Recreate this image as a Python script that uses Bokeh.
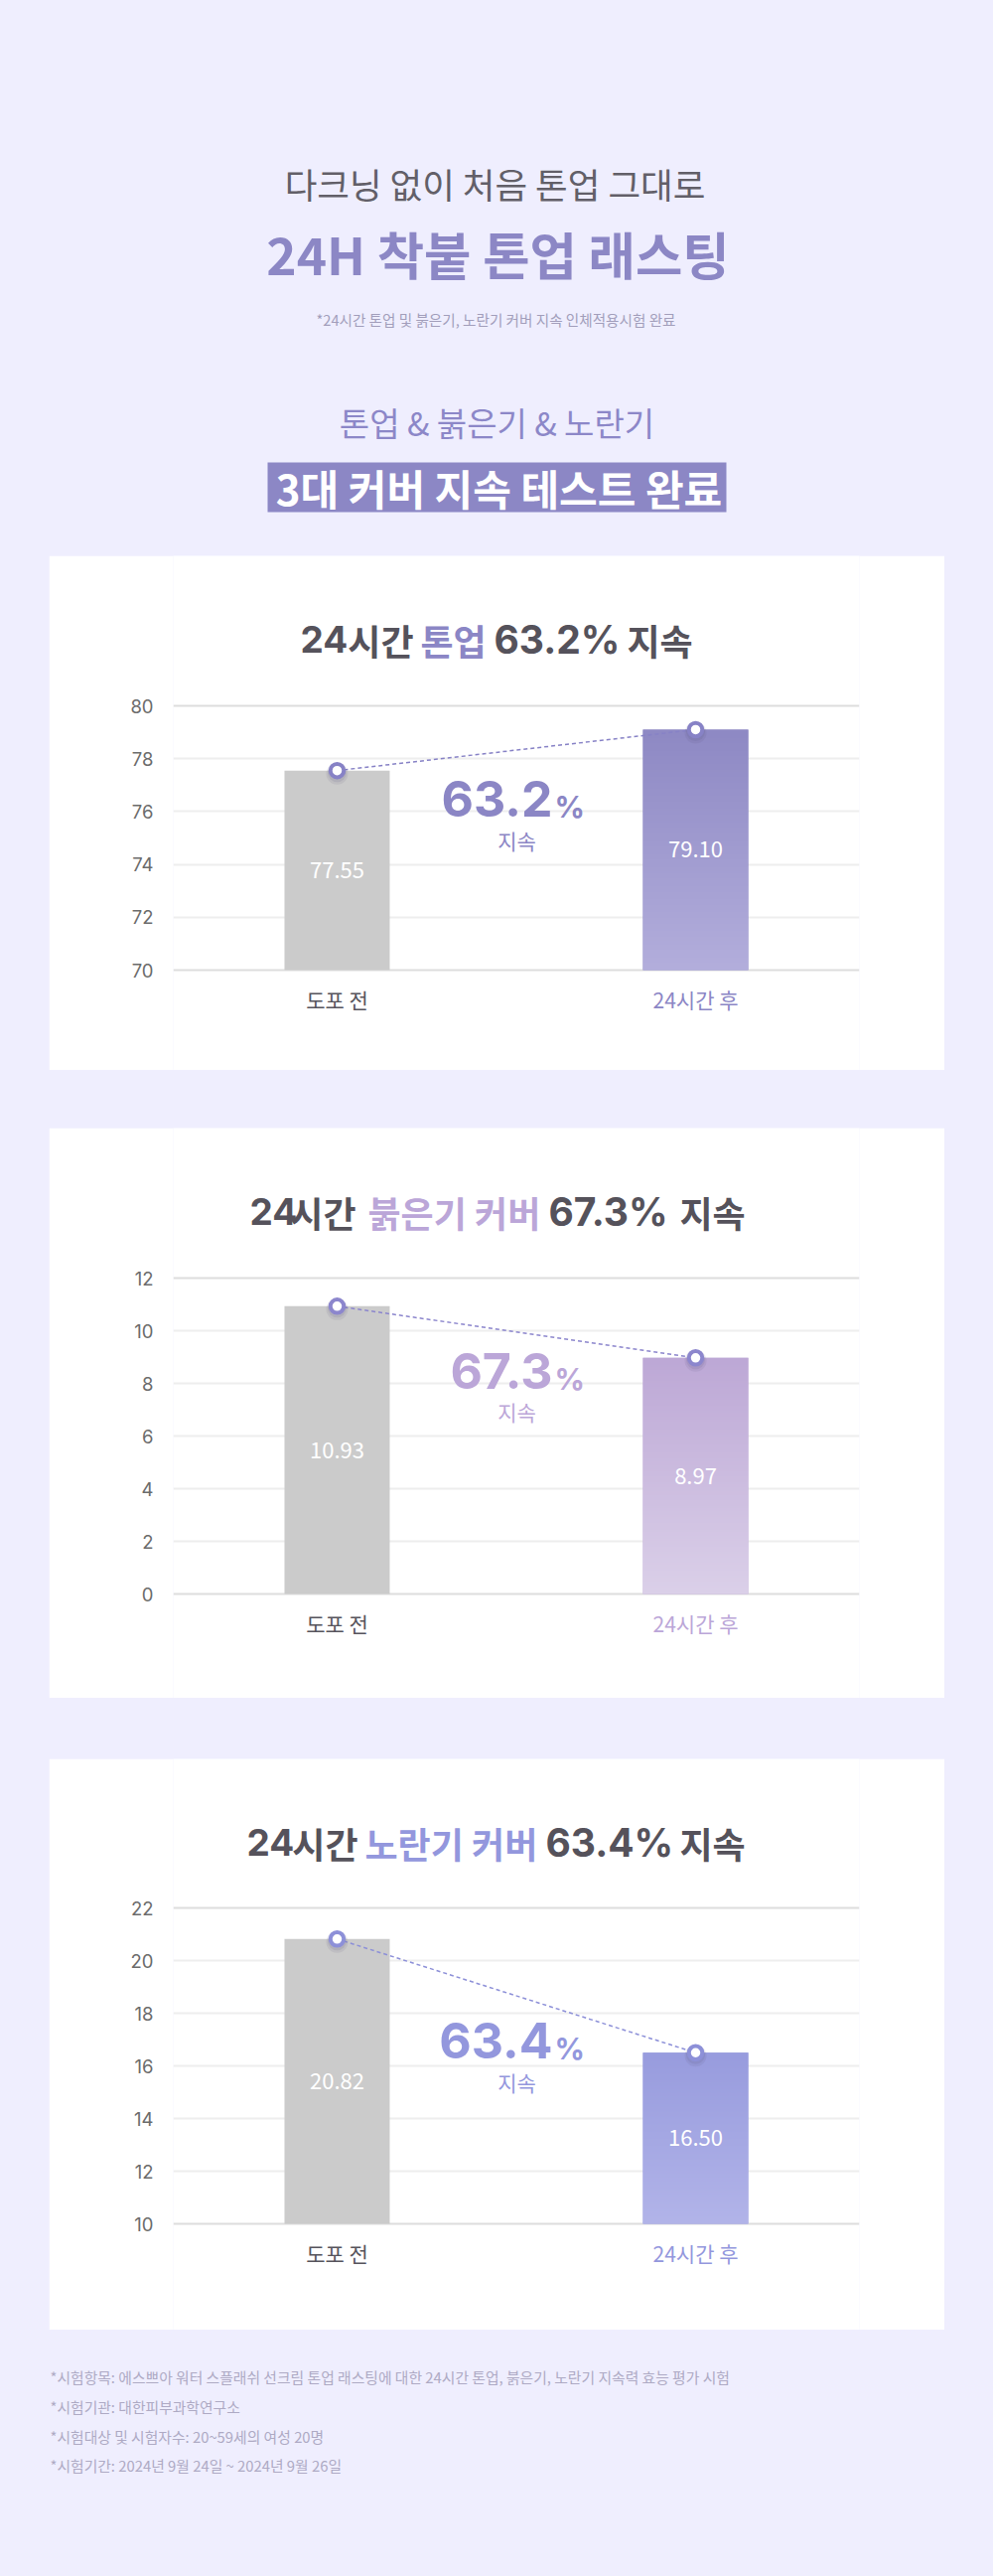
import numpy as np
from bokeh.plotting import figure
from bokeh.layouts import column, row
from bokeh.models import Range1d, FixedTicker, LinearAxis, Grid, Spacer
from bokeh.core.properties import value
from bokeh.embed import file_html
from bokeh.resources import INLINE

# ---------------- data ----------------
categories = ["도포 전", "24시간 후"]
tone_up = [77.55, 79.10]
redness = [10.93, 8.97]
yellowness = [20.82, 16.50]
retention = [63.2, 67.3, 63.4]
tone_ticks = [70, 72, 74, 76, 78, 80]
red_ticks = [0, 2, 4, 6, 8, 10, 12]
yellow_ticks = [10, 12, 14, 16, 18, 20, 22]
card_topics = ["톤업", "붉은기 커버", "노란기 커버"]
footnotes = [
    "*시험항목: 에스쁘아 워터 스플래쉬 선크림 톤업 래스팅에 대한 24시간 톤업, 붉은기, 노란기 지속력 효능 평가 시험",
    "*시험기관: 대한피부과학연구소",
    "*시험대상 및 시험자수: 20~59세의 여성 20명",
    "*시험기간: 2024년 9월 24일 ~ 2024년 9월 26일",
]

# ---------------- style ----------------
KR = value("Noto Sans CJK KR")
NUM = value("Inter")
BG = "#EFEEFE"
DARK = "#55525B"
GRAY_BAR = "#CBCBCB"


def base_fig(w, h, xr, yr, **kw):
    p = figure(width=w, height=h, x_range=xr, y_range=yr,
               x_axis_type=None, y_axis_type=None,
               toolbar_location=None, output_backend="svg",
               outline_line_color=None, **kw)
    return p


def gradient(top_hex, bottom_hex, n=128):
    def rgb(h):
        h = h.lstrip("#")
        return np.array([int(h[i:i + 2], 16) for i in (0, 2, 4)], dtype=float)
    t = np.linspace(0.0, 1.0, n)[:, None]
    cols = rgb(bottom_hex)[None, :] * (1 - t) + rgb(top_hex)[None, :] * t
    img = np.empty((n, 1), dtype=np.uint32)
    view = img.view(dtype=np.uint8).reshape((n, 1, 4))
    view[:, 0, 0] = cols[:, 0]
    view[:, 0, 1] = cols[:, 1]
    view[:, 0, 2] = cols[:, 2]
    view[:, 0, 3] = 255
    return img


def make_card(height, grid_top, grid_bot, ticks, vals, pct, topic,
              accent, bar_top, bar_bot, dot_color, title_x, pct_base, jisok_y):
    W = 902
    CARD_X = 49
    f_left, f_right = 125, 816
    ymin, ymax = ticks[0], ticks[-1]
    ppu = (grid_bot - grid_top) / (ymax - ymin)
    y_end = ymax + grid_top / ppu
    y_start = ymin - (height - grid_bot) / ppu
    x_start, x_end = -0.457, 1.457
    ppx = (f_right - f_left) / (x_end - x_start)

    def X(px):
        return x_start + (px - CARD_X - f_left) / ppx

    def Y(px):
        return y_end - px / ppu

    p = base_fig(W, height, Range1d(x_start, x_end), Range1d(y_start, y_end),
                 min_border_left=f_left, min_border_right=W - f_right,
                 min_border_top=0, min_border_bottom=0,
                 background_fill_color="white", border_fill_color="white")

    yaxis = LinearAxis(ticker=FixedTicker(ticks=ticks),
                       axis_line_color=None, major_tick_line_color=None,
                       minor_tick_line_color=None, major_label_standoff=14,
                       major_label_text_font="Inter",
                       major_label_text_font_size="18.5px",
                       major_label_text_color="#6C6C6C")
    p.add_layout(yaxis, "left")
    p.add_layout(Grid(dimension=1, ticker=FixedTicker(ticks=ticks[1:-1]),
                      grid_line_color="#EEEEEE", grid_line_width=2))
    p.add_layout(Grid(dimension=1, ticker=FixedTicker(ticks=[ymin, ymax]),
                      grid_line_color="#DDDDDD", grid_line_width=2))

    xs = [0, 1]
    bw = 106 / ppx
    p.vbar(x=xs, top=vals, bottom=ymin, width=bw,
           fill_color=[GRAY_BAR, bar_top], line_color=None)
    p.image_rgba(image=[gradient(bar_top, bar_bot)], x=1 - bw / 2, y=ymin,
                 dw=bw, dh=vals[1] - ymin)

    # connector + markers
    p.line(xs, vals, line_color=dot_color, line_width=1.5, line_dash="4 3")
    p.scatter(xs, [v - 3 / ppu for v in vals], size=22, fill_color="#55507A",
              fill_alpha=0.10, line_color=None)
    p.scatter(xs, [v - 2 / ppu for v in vals], size=19, fill_color="#55507A",
              fill_alpha=0.12, line_color=None)
    p.scatter(xs, vals, size=13.5, fill_color="white", line_color=dot_color,
              line_width=4)

    # value labels
    p.text(x=xs, y=[(v + ymin) / 2 for v in vals],
           text=[f"{v:.2f}" for v in vals], text_color="white",
           text_font=KR, text_font_size="22px", text_align="center",
           text_baseline="middle")

    # category labels
    p.text(x=xs, y=[Y(grid_bot + 29)] * 2, text=categories,
           text_color=["#56545C", accent], text_font=KR,
           text_font_size="21px", text_align="center",
           text_baseline="middle")

    # title pieces: "24" | "시간" | topic | "xx.x%" | "지속"
    tx = title_x
    ty = Y(84)
    p.text(x=[X(tx[0])], y=[ty], text=["24"], text_color=DARK,
           text_font=NUM, text_font_size="37px", text_font_style="bold",
           text_align="left", text_baseline="middle")
    p.text(x=[X(tx[1])], y=[ty], text=["시간"], text_color=DARK,
           text_font=KR, text_font_size="36px", text_font_style="bold",
           text_align="right", text_baseline="middle")
    p.text(x=[X(tx[2])], y=[ty], text=[topic], text_color=accent,
           text_font=KR, text_font_size="36px", text_font_style="bold",
           text_align="left", text_baseline="middle")
    p.text(x=[X(tx[3])], y=[ty], text=[f"{pct}%"], text_color=DARK,
           text_font=NUM, text_font_size="39px", text_font_style="bold",
           text_align="left", text_baseline="middle")
    p.text(x=[X(tx[4])], y=[ty], text=["지속"], text_color=DARK,
           text_font=KR, text_font_size="36px", text_font_style="bold",
           text_align="left", text_baseline="middle")

    # retention annotation (centres computed from the digit baseline)
    num_size, pc_size = 50, 30
    p.text(x=[X(556)], y=[Y(pct_base - 0.364 * num_size)], text=[f"{pct}"],
           text_color=accent, text_font=NUM, text_font_size=f"{num_size}px",
           text_font_style="bold", text_align="right", text_baseline="middle")
    p.text(x=[X(558)], y=[Y(pct_base - 0.364 * pc_size)], text=["%"],
           text_color=accent, text_font=NUM, text_font_size=f"{pc_size}px",
           text_font_style="bold", text_align="left", text_baseline="middle")
    p.text(x=[X(520)], y=[Y(jisok_y)], text=["지속"], text_color=accent,
           text_font=KR, text_font_size="21px", text_align="center",
           text_baseline="middle")
    return p


# ---------------- header ----------------
hdr = base_fig(1000, 559, Range1d(0, 1000), Range1d(559, 0),
               min_border=0, background_fill_color=BG, border_fill_color=BG)
hdr.text(x=[498], y=[184], text=["다크닝 없이 처음 톤업 그대로"],
         text_color="#625F68", text_font=KR, text_font_size="35.5px",
         text_align="center", text_baseline="middle")
hdr.text(x=[501], y=[254], text=["24H 착붙 톤업 래스팅"],
         text_color="#8C87C5", text_font=KR, text_font_size="51.5px",
         text_font_style="bold", text_align="center", text_baseline="middle")
hdr.text(x=[499], y=[321], text=["*24시간 톤업 및 붉은기, 노란기 커버 지속 인체적용시험 완료"],
         text_color="#A29EBB", text_font=KR, text_font_size="14.6px",
         text_align="center", text_baseline="middle")
hdr.text(x=[500], y=[424], text=["톤업 & 붉은기 & 노란기"],
         text_color="#8C87C8", text_font=KR, text_font_size="33px",
         text_align="center", text_baseline="middle")
hdr.quad(left=[269], right=[731], top=[465], bottom=[515],
         fill_color="#8C87C5", line_color=None)
hdr.text(x=[502], y=[490], text=["3대 커버 지속 테스트 완료"],
         text_color="white", text_font=KR, text_font_size="42px",
         text_font_style="bold", text_align="center", text_baseline="middle")

# ---------------- cards ----------------
card1 = make_card(518, 151, 417, tone_ticks, tone_up, retention[0], card_topics[0],
                  "#8B86C5", "#8E89C4", "#B3AEDC", "#8782C6",
                  [302, 416, 423, 497, 631], 263, 286)
card2 = make_card(574, 151, 469, red_ticks, redness, retention[1], card_topics[1],
                  "#BBA6D8", "#BDA8D6", "#DBD0E9", "#8C86CD",
                  [251, 358, 370, 552, 684], 263, 285)
card3 = make_card(575, 150, 468, yellow_ticks, yellowness, retention[2], card_topics[2],
                  "#9397DD", "#989CDE", "#B2B4E9", "#8D90D8",
                  [248, 360, 367, 549, 684], 302, 325)

# ---------------- footer ----------------
ftr = base_fig(1000, 248, Range1d(0, 1000), Range1d(248, 0),
               min_border=0, background_fill_color=BG, border_fill_color=BG)
ftr.text(x=[50] * 4, y=[46.5, 77, 106.5, 136], text=footnotes,
         text_color="#AEAAC4", text_font=KR, text_font_size="14.8px",
         text_align="left", text_baseline="middle")


def sp(w, h):
    return Spacer(width=w, height=h, styles={"background-color": BG})


layout = column(
    hdr,
    row(sp(49, 518), card1, sp(49, 518), styles={"background-color": BG}),
    sp(1000, 58),
    row(sp(49, 574), card2, sp(49, 574), styles={"background-color": BG}),
    sp(1000, 61),
    row(sp(49, 575), card3, sp(49, 575), styles={"background-color": BG}),
    ftr,
    styles={"background-color": BG},
)

open("out.html", "w").write(file_html(layout, INLINE, title="24H 톤업 래스팅"))
